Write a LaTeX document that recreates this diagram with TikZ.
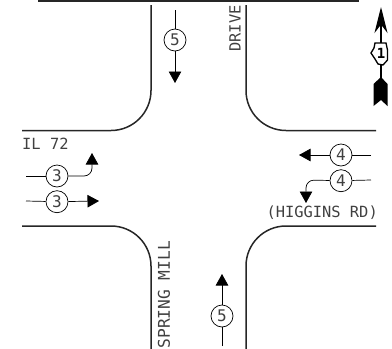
\documentclass[tikz,border=0pt]{standalone}
\usepackage{fontspec}
\setmainfont{DejaVu Sans Mono}
\usetikzlibrary{positioning, arrows.meta}
\tikzstyle{road} = [draw, line width=1.5pt, rounded corners=40pt, color=black!85]
\tikzstyle{movement} = [circle, draw, line width=0.7pt, minimum size=22pt, inner sep=0pt, font=\fontsize{16}{16}\selectfont, text=black!75]
\tikzstyle{flow} = [draw, line width=0.7pt, rounded corners=8pt, -{Triangle[length=11.5pt, width=12.5pt]}]
\tikzstyle{tail} = [draw, line width=0.7pt]
\tikzstyle{streetname} = [font=\fontsize{15.4}{15.4}\selectfont, inner sep=0pt, text=black!75]
\begin{document}
\begin{tikzpicture}[x=1pt, y=-1pt]
        \useasboundingbox (0,0) rectangle (392,349);

        % Road edges
        \draw[line width=2pt, color=black!85] (38,0.8) -- (359,0.8);
        \path [road] (22,130.5) -- (151,130.5) -- (151,5);
        \path [road] (376,130.5) -- (246,130.5) -- (246,5);
        \path [road] (22,226) -- (151,226) -- (151,349);
        \path [road] (376,226) -- (246,226) -- (246,349);

        % Street names
        \node (il72) [streetname, anchor=west] at (22,144) {IL 72};
        \node (higgins) [streetname, anchor=east] at (378,213) {(HIGGINS RD)};
        \node (drive) [streetname, rotate=90, anchor=east] at (235,5) {DRIVE};
        \node (spring) [streetname, rotate=90, anchor=west, font=\fontsize{16.2}{16.2}\selectfont] at (164,348.5) {SPRING MILL};

        % Movement numbers
        \node (eb1) [movement] at (57,176) {3};
        \node (eb2) [movement, below=3pt of eb1] {3};
        \node (wb1) [movement] at (341,155) {4};
        \node (wb2) [movement, below=3pt of wb1] {4};
        \node (sb) [movement] at (175,40) {5};
        \node (nb) [movement] at (222,316) {5};

        % Free ends
        \coordinate (eb1in) at (26,176);
        \coordinate (eb1turn) at (92,176);
        \coordinate (eb1out) at (92,153);
        \coordinate (eb2in) at (26,201);
        \coordinate (eb2out) at (99,201);
        \coordinate (wb1in) at (371,155);
        \coordinate (wb1out) at (299,155);
        \coordinate (wb2in) at (371,180);
        \coordinate (wb2turn) at (306,180);
        \coordinate (wb2out) at (306,203);
        \coordinate (sbin) at (175,10);
        \coordinate (sbout) at (175,83);
        \coordinate (nbin) at (222,346);
        \coordinate (nbout) at (222,274);

        % Connectors
        \path [tail] (eb1in) -- (eb1);
        \path [flow] (eb1) -- (eb1turn) -- (eb1out);
        \path [tail] (eb2in) -- (eb2);
        \path [flow] (eb2) -- (eb2out);
        \path [tail] (wb1in) -- (wb1);
        \path [flow] (wb1) -- (wb1out);
        \path [tail] (wb2in) -- (wb2);
        \path [flow] (wb2) -- (wb2turn) -- (wb2out);
        \path [tail] (sbin) -- (sb);
        \path [flow] (sb) -- (sbout);
        \path [tail] (nbin) -- (nb);
        \path [flow] (nb) -- (nbout);

        % North arrow
        \coordinate (ntail) at (381,82);
        \coordinate (ntip) at (381,7);
        \draw[line width=1.2pt, -{Stealth[length=26pt, width=13pt]}] (ntail) -- (ntip);
        \fill (381,77) -- (387.5,84) -- (387.5,106) -- (381,100) -- (373.5,106) -- (373.5,84) -- cycle;
        \draw[line width=1.3pt, fill=white] (375,43) -- (386,43) -- (387.5,50) -- (387.5,60) -- (383,65) -- (378,64) -- (375,59) -- (371,53) -- (374,48) -- cycle;
        \node (shield) [inner sep=0pt, font=\fontsize{14}{14}\selectfont\bfseries] at (381,53.5) {1};
    \end{tikzpicture}
\end{document}
